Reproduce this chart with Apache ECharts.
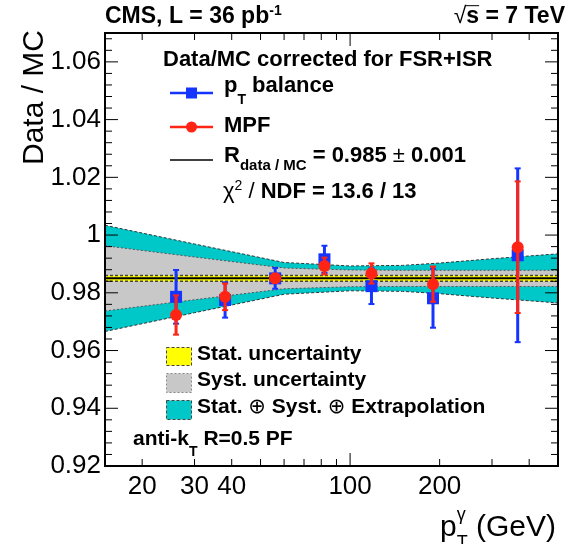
<!DOCTYPE html>
<html><head><meta charset="utf-8">
<script src="https://cdn.jsdelivr.net/npm/echarts@6.0.0/dist/echarts.min.js"></script>
<style>html,body{margin:0;padding:0;background:#fff}#c{width:570px;height:544px}</style>
</head><body><div id="c"></div><script>
// ---- data ----
const ptGamma = [26, 38, 56, 82, 118, 190, 366];
const ptBalance = [0.9786, 0.9775, 0.9850, 0.9916, 0.9823, 0.9781, 0.9930];
const ptBalanceErr = [0.0093, 0.0061, 0.0036, 0.0047, 0.0062, 0.0102, 0.0301];
const mpf = [0.9723, 0.9786, 0.9850, 0.9893, 0.9867, 0.9830, 0.9958];
const mpfErr = [0.0068, 0.0046, 0.0015, 0.0029, 0.0035, 0.0061, 0.0228];
const fitValue = 0.985;
const fitStatErr = 0.001;
const bandPt = [15, 30, 60, 100, 150, 200, 300, 500];
const systHalf = [0.0113, 0.0074, 0.0036, 0.0029, 0.0028, 0.0028, 0.0028, 0.0028];
const totalHalf = [0.0184, 0.0119, 0.0055, 0.0043, 0.0045, 0.0053, 0.0068, 0.0085];
const xTickLabels = [20, 30, 40, 100, 200];
const xMinorTicks = [20, 30, 40, 50, 60, 70, 80, 90, 200, 300, 400];
const xMajorTicks = [100];
const yTickValues = [0.92, 0.94, 0.96, 0.98, 1.00, 1.02, 1.04, 1.06];
const yTickLabels = ['0.92', '0.94', '0.96', '0.98', '1', '1.02', '1.04', '1.06'];
const xMin = 15, xMax = 500, yMin = 0.92, yMax = 1.07;

const FF = "'Liberation Sans', 'DejaVu Sans', Arial, sans-serif";
const BLUE = '#1535ff', RED = '#ff2414', CYAN = '#00c8c8', GRAY = '#c8c8c8', YELLOW = '#ffff00';

const mctx = document.createElement('canvas').getContext('2d');
function measure(t, s, b) { mctx.font = (b ? 'bold ' : '') + s + 'px ' + FF; return mctx.measureText(t).width; }
function txt(t, x, y, s, b, align, color) {
  return {type: 'text', silent: true, style: {text: t, x: x, y: y, fontSize: s, fontFamily: FF,
    fontWeight: b ? 'bold' : 'normal', fill: color || '#000', align: align || 'left', verticalAlign: 'middle',
    textAlign: align || 'left', textVerticalAlign: 'middle'}};
}
// line of text segments placed on a common baseline
function richLine(segs, x, baseline, align) {
  let total = 0;
  const ws = segs.map(sg => {
    const w = sg.stack ? Math.max.apply(null, sg.stack.map(q => measure(q.t, q.s, q.b))) : measure(sg.t, sg.s, sg.b);
    total += w; return w;
  });
  let cx = align === 'right' ? x - total : x;
  const els = [];
  segs.forEach((sg, i) => {
    (sg.stack || [sg]).forEach(q => {
      els.push(txt(q.t, cx, baseline + (q.dy || 0) - 0.35 * q.s, q.s, q.b, 'left'));
    });
    if (sg.over) {
      els.push({type: 'line', silent: true, shape: {x1: cx - 1, y1: baseline - 0.84 * sg.s, x2: cx + ws[i], y2: baseline - 0.84 * sg.s}, style: {stroke: '#000', lineWidth: 1}});
    }
    cx += ws[i];
  });
  return els;
}

const graphics = [].concat(
  richLine([{t: 'CMS, L = 36 pb', s: 23, b: 1}, {t: '-1', s: 14, b: 1, dy: -9}], 105, 25),
  richLine([{t: '\u221A', s: 23, b: 0}, {t: 's', s: 23, b: 1, over: true}, {t: ' = 7 TeV', s: 23, b: 1}], 565, 25, 'right'),
  richLine([{t: 'Data/MC corrected for FSR+ISR', s: 22, b: 1}], 163, 68),
  richLine([{t: 'p', s: 22, b: 1}, {t: 'T', s: 14, b: 1, dy: 11}, {t: ' balance', s: 22, b: 1}], 224, 94),
  richLine([{t: 'MPF', s: 22, b: 1}], 224, 134),
  richLine([{t: 'R', s: 22, b: 1}, {t: 'data / MC', s: 15, b: 1, dy: 7}, {t: ' = 0.985 ', s: 22, b: 1}, {t: '\u00B1', s: 22, b: 0}, {t: ' 0.001', s: 22, b: 1}], 224, 164),
  richLine([{t: '\u03C7', s: 22, b: 0}, {t: '2', s: 14, b: 0, dy: -9}, {t: ' / ', s: 22, b: 0}, {t: 'NDF = 13.6 / 13', s: 22, b: 1}], 223, 200),
  richLine([{t: 'Stat. uncertainty', s: 21, b: 1}], 197, 362),
  richLine([{t: 'Syst. uncertainty', s: 21, b: 1}], 197, 388),
  richLine([{t: 'Stat. ', s: 21, b: 1}, {t: '\u2295', s: 21, b: 0}, {t: ' Syst. ', s: 21, b: 1}, {t: '\u2295', s: 21, b: 0}, {t: ' Extrapolation', s: 21, b: 1}], 197, 415),
  richLine([{t: 'anti-k', s: 21, b: 1}, {t: 'T', s: 14, b: 1, dy: 10}, {t: ' R=0.5 PF', s: 21, b: 1}], 133, 447),
  richLine([{t: 'p', s: 30, b: 0}, {stack: [{t: '\u03B3', s: 18, b: 0, dy: -17}, {t: 'T', s: 18, b: 0, dy: 11}]}, {t: ' (GeV)', s: 30, b: 0}], 556, 538, 'right'),
  [
    {type: 'text', silent: true, x: 45, y: 30, rotation: Math.PI / 2,
     style: {text: 'Data / MC', x: 0, y: -0.35 * 30, fontSize: 30, fontFamily: FF, fill: '#000', align: 'right', verticalAlign: 'middle', textAlign: 'right', textVerticalAlign: 'middle'}},
    // legend markers
    {type: 'line', silent: true, shape: {x1: 170, y1: 93, x2: 213, y2: 93}, style: {stroke: BLUE, lineWidth: 2.5}},
    {type: 'rect', silent: true, shape: {x: 186, y: 87.5, width: 11, height: 11}, style: {fill: BLUE}},
    {type: 'line', silent: true, shape: {x1: 170, y1: 127, x2: 213, y2: 127}, style: {stroke: RED, lineWidth: 2.5}},
    {type: 'circle', silent: true, shape: {cx: 191.5, cy: 127, r: 5.5}, style: {fill: RED}},
    {type: 'line', silent: true, shape: {x1: 170, y1: 160, x2: 213, y2: 160}, style: {stroke: '#000', lineWidth: 1.5}},
    {type: 'rect', silent: true, shape: {x: 166.5, y: 347.5, width: 25, height: 18}, style: {fill: YELLOW, stroke: '#444', lineWidth: 1, lineDash: [3, 2]}},
    {type: 'rect', silent: true, shape: {x: 166.5, y: 373.5, width: 25, height: 19}, style: {fill: GRAY, stroke: '#888', lineWidth: 1, lineDash: [2, 2]}},
    {type: 'rect', silent: true, shape: {x: 166.5, y: 400.5, width: 25, height: 19}, style: {fill: CYAN, stroke: '#444', lineWidth: 1, lineDash: [3, 2]}}
  ]
);

function pointSeries(name, vals, errs, color, marker, z) {
  return {
    type: 'custom', name: name, z: z, silent: true, coordinateSystem: 'cartesian2d',
    data: ptGamma.map((x, i) => [x, vals[i], errs[i]]), encode: {x: 0, y: 1},
    renderItem: function (params, api) {
      const x = api.value(0), y = api.value(1), e = api.value(2);
      const c = api.coord([x, y]), t = api.coord([x, y + e]), b = api.coord([x, y - e]);
      const ch = [
        {type: 'line', shape: {x1: c[0], y1: t[1], x2: c[0], y2: b[1]}, style: {stroke: color, lineWidth: 3}},
        {type: 'line', shape: {x1: c[0] - 3, y1: t[1], x2: c[0] + 3, y2: t[1]}, style: {stroke: color, lineWidth: 2}},
        {type: 'line', shape: {x1: c[0] - 3, y1: b[1], x2: c[0] + 3, y2: b[1]}, style: {stroke: color, lineWidth: 2}}
      ];
      if (marker === 'square') ch.push({type: 'rect', shape: {x: c[0] - 6, y: c[1] - 6, width: 12, height: 12}, style: {fill: color}});
      else ch.push({type: 'circle', shape: {cx: c[0], cy: c[1], r: 6}, style: {fill: color}});
      return {type: 'group', children: ch};
    }
  };
}

const option = {
  animation: false,
  grid: {left: 105, right: 12, top: 33, bottom: 78, show: false},
  xAxis: {type: 'log', logBase: 10, min: xMin, max: xMax, show: true,
    axisLine: {show: false}, axisTick: {show: false}, axisLabel: {show: false}, splitLine: {show: false}, minorTick: {show: false}},
  yAxis: {type: 'value', min: yMin, max: yMax, show: true,
    axisLine: {show: false}, axisTick: {show: false}, axisLabel: {show: false}, splitLine: {show: false}},
  graphic: {elements: graphics},
  series: [
    { // uncertainty bands and fit line
      type: 'custom', z: 1, silent: true, coordinateSystem: 'cartesian2d',
      data: [[bandPt[0], fitValue]], encode: {x: 0, y: 1},
      renderItem: function (params, api) {
        const up = h => bandPt.map((x, i) => api.coord([x, fitValue + h[i]]));
        const dn = h => bandPt.map((x, i) => api.coord([x, fitValue - h[i]]));
        const cu = up(totalHalf), cd = dn(totalHalf), gu = up(systHalf), gd = dn(systHalf);
        const x0 = bandPt[0], x1 = bandPt[bandPt.length - 1];
        const su = [api.coord([x0, fitValue + fitStatErr]), api.coord([x1, fitValue + fitStatErr])];
        const sd = [api.coord([x0, fitValue - fitStatErr]), api.coord([x1, fitValue - fitStatErr])];
        const fl = [api.coord([x0, fitValue]), api.coord([x1, fitValue])];
        const pl = (pts, stroke, w, dash) => ({type: 'polyline', shape: {points: pts}, style: {stroke: stroke, lineWidth: w, lineDash: dash, fill: null}});
        return {type: 'group', children: [
          {type: 'polygon', shape: {points: cu.concat(cd.slice().reverse())}, style: {fill: CYAN}},
          {type: 'polygon', shape: {points: gu.concat(gd.slice().reverse())}, style: {fill: GRAY}},
          {type: 'polygon', shape: {points: su.concat(sd.slice().reverse())}, style: {fill: YELLOW}},
          pl(cu, '#333', 1, [3, 2]), pl(cd, '#333', 1, [3, 2]),
          pl(gu, '#555', 1, [2, 2]), pl(gd, '#555', 1, [2, 2]),
          pl(su, '#444', 1.5, [3, 2]), pl(sd, '#444', 1.5, [3, 2]),
          pl(fl, '#000', 2, null)
        ]};
      }
    },
    pointSeries('pT balance', ptBalance, ptBalanceErr, BLUE, 'square', 3),
    pointSeries('MPF', mpf, mpfErr, RED, 'circle', 4),
    { // frame, ticks and tick labels
      type: 'custom', z: 10, silent: true, coordinateSystem: 'cartesian2d', clip: false,
      data: [[100, 1]], encode: {x: 0, y: 1},
      renderItem: function (params, api) {
        const cs = params.coordSys;
        const L = cs.x, T = cs.y, R = cs.x + cs.width, B = cs.y + cs.height;
        const ch = [];
        const ln = (x1, y1, x2, y2) => ch.push({type: 'line', shape: {x1: x1, y1: y1, x2: x2, y2: y2}, style: {stroke: '#000', lineWidth: 1}});
        xMinorTicks.forEach(v => { const px = api.coord([v, yMin])[0]; ln(px, B, px, B - 7); ln(px, T, px, T + 7); });
        xMajorTicks.forEach(v => { const px = api.coord([v, yMin])[0]; ln(px, B, px, B - 13); ln(px, T, px, T + 13); });
        for (let k = 0; k <= 37; k++) {
          const v = Math.round((yMin + 0.004 * k) * 1000) / 1000;
          const py = api.coord([xMin, v])[1];
          const len = (k % 5 === 0 && k <= 35) ? 13 : 7;
          ln(L, py, L + len, py); ln(R, py, R - len, py);
        }
        ch.push({type: 'rect', shape: {x: L, y: T, width: cs.width, height: cs.height}, style: {fill: null, stroke: '#000', lineWidth: 2}});
        yTickValues.forEach((v, i) => {
          const py = api.coord([xMin, v])[1];
          ch.push(txt(yTickLabels[i], L - 4, py, 26, 0, 'right'));
        });
        xTickLabels.forEach(v => {
          const px = api.coord([v, yMin])[0];
          ch.push(txt(String(v), px, 487, 26, 0, 'center'));
        });
        return {type: 'group', children: ch};
      }
    }
  ]
};
const chart = echarts.init(document.getElementById('c'), null, {renderer: 'canvas'});
chart.setOption(option);
</script></body></html>
